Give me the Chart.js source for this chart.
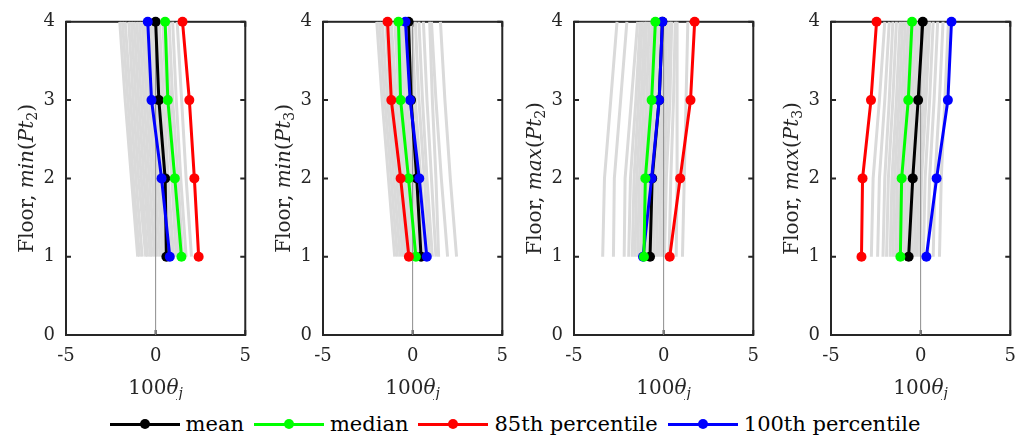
<!DOCTYPE html>
<html>
<head>
<meta charset="utf-8">
<script src="https://cdn.jsdelivr.net/npm/chart.js@4.4.0/dist/chart.umd.min.js"></script>
<style>
  body { margin: 0; width: 1030px; height: 438px; background: #fff; position: relative; overflow: hidden; font-family: 'DejaVu Serif', serif; }
  canvas.panel { position: absolute; top: 0; }
  #legend { position: absolute; left: 0; top: 406px; width: 1030px; height: 36px; display: flex; justify-content: center; align-items: center; font-size: 21px; color: #000; }
  .item { display: flex; align-items: center; margin-right: 10px; }
  .item:last-child { margin-right: 0; }
  .swatch { position: relative; width: 70px; height: 3px; margin-right: 6px; }
  .swatch span { position: absolute; left: 30px; top: -3.5px; width: 10px; height: 10px; border-radius: 50%; }
</style>
</head>
<body>
<canvas class="panel" id="p0" width="262" height="400" style="left:0px"></canvas>
<canvas class="panel" id="p1" width="262" height="400" style="left:257px"></canvas>
<canvas class="panel" id="p2" width="262" height="400" style="left:508px"></canvas>
<canvas class="panel" id="p3" width="262" height="400" style="left:765px"></canvas>
<div id="legend"></div>
<script>
// floors (y values), values listed floor 1 -> floor 4
const floors = [1, 2, 3, 4];
const seriesNames = ['mean', 'median', '85th percentile', '100th percentile'];
const seriesColors = ['#000000', '#00ff00', '#ff0000', '#0000ff'];

// min(Pt2)
const mean_minPt2   = [0.60, 0.53, 0.18, 0.00];
const median_minPt2 = [1.44, 1.07, 0.68, 0.53];
const p85_minPt2    = [2.40, 2.16, 1.88, 1.50];
const p100_minPt2   = [0.79, 0.33, -0.23, -0.44];
const runs_minPt2 = [
  [-1.00, -1.35, -1.70, -2.00],
  [-0.90, -1.25, -1.55, -1.85],
  [-0.75, -1.10, -1.40, -1.70],
  [-0.55, -0.95, -1.25, -1.50],
  [-0.45, -0.80, -1.10, -1.35],
  [-0.30, -0.65, -0.95, -1.20],
  [-0.20, -0.50, -0.80, -1.05],
  [-0.05, -0.35, -0.65, -0.90],
  [0.10, -0.20, -0.50, -0.75],
  [0.25, -0.05, -0.35, -0.60],
  [0.40, 0.10, -0.20, -0.45],
  [0.55, 0.25, -0.05, -0.30],
  [0.70, 0.40, 0.10, -0.15],
  [0.85, 0.55, 0.30, 0.05],
  [1.00, 0.70, 0.45, 0.20],
  [1.15, 0.90, 0.60, 0.40],
  [1.30, 1.05, 0.80, 0.55],
  [1.50, 1.25, 0.95, 0.75],
  [1.70, 1.40, 1.15, 0.95],
  [2.00, 1.70, 1.45, 1.20]
];

// min(Pt3)
const mean_minPt3   = [0.47, 0.23, -0.09, -0.23];
const median_minPt3 = [0.18, -0.23, -0.67, -0.79];
const p85_minPt3    = [-0.21, -0.67, -1.19, -1.40];
const p100_minPt3   = [0.79, 0.37, -0.14, -0.40];
const runs_minPt3 = [
  [-1.00, -1.35, -1.70, -2.00],
  [-0.85, -1.20, -1.55, -1.85],
  [-0.70, -1.05, -1.40, -1.70],
  [-0.55, -0.90, -1.25, -1.50],
  [-0.40, -0.75, -1.05, -1.35],
  [-0.25, -0.60, -0.90, -1.20],
  [-0.10, -0.45, -0.75, -1.00],
  [0.05, -0.30, -0.60, -0.85],
  [0.20, -0.15, -0.45, -0.70],
  [0.35, 0.00, -0.30, -0.55],
  [0.50, 0.15, -0.15, -0.40],
  [0.65, 0.30, 0.00, -0.25],
  [0.80, 0.45, 0.15, -0.05],
  [0.95, 0.65, 0.35, 0.15],
  [1.10, 0.80, 0.55, 0.35],
  [1.30, 1.05, 0.80, 0.60],
  [1.45, 1.30, 1.10, 0.95],
  [1.95, 1.60, 1.30, 1.05],
  [2.45, 2.10, 1.80, 1.55]
];

// max(Pt2)
const mean_maxPt2   = [-0.76, -0.64, -0.25, -0.07];
const median_maxPt2 = [-1.10, -1.02, -0.67, -0.46];
const p85_maxPt2    = [0.34, 0.92, 1.50, 1.73];
const p100_maxPt2   = [-1.15, -0.67, -0.25, -0.07];
const runs_maxPt2 = [
  [-3.40, -3.30, -2.95, -2.60],
  [-2.80, -2.75, -2.40, -2.05],
  [-2.20, -2.15, -1.80, -1.45],
  [-1.95, -1.85, -1.55, -1.30],
  [-1.75, -1.65, -1.40, -1.20],
  [-1.60, -1.50, -1.25, -1.05],
  [-1.45, -1.35, -1.10, -0.95],
  [-1.30, -1.20, -0.95, -0.80],
  [-1.15, -1.05, -0.80, -0.65],
  [-1.00, -0.90, -0.65, -0.50],
  [-0.85, -0.75, -0.50, -0.35],
  [-0.70, -0.60, -0.35, -0.20],
  [-0.55, -0.45, -0.20, -0.05],
  [-0.40, -0.30, -0.05, 0.10],
  [-0.25, -0.15, 0.05, 0.20],
  [-0.10, 0.00, 0.20, 0.35],
  [0.05, 0.15, 0.35, 0.45],
  [0.30, 0.40, 0.55, 0.65],
  [0.70, 0.75, 0.75, 0.75],
  [1.05, 1.15, 1.25, 1.35]
];

// max(Pt3)
const mean_maxPt3   = [-0.67, -0.44, -0.14, 0.12];
const median_maxPt3 = [-1.13, -1.06, -0.69, -0.48];
const p85_maxPt3    = [-3.30, -3.24, -2.77, -2.46];
const p100_maxPt3   = [0.32, 0.89, 1.52, 1.72];
const runs_maxPt3 = [
  [-2.75, -2.65, -2.30, -2.00],
  [-2.40, -2.30, -2.00, -1.75],
  [-2.10, -2.00, -1.75, -1.55],
  [-1.90, -1.80, -1.55, -1.35],
  [-1.70, -1.60, -1.35, -1.15],
  [-1.55, -1.45, -1.20, -1.00],
  [-1.40, -1.30, -1.05, -0.85],
  [-1.25, -1.15, -0.90, -0.70],
  [-1.10, -1.00, -0.75, -0.55],
  [-0.95, -0.85, -0.60, -0.40],
  [-0.80, -0.70, -0.45, -0.25],
  [-0.65, -0.55, -0.30, -0.10],
  [-0.50, -0.40, -0.15, 0.05],
  [-0.35, -0.25, 0.00, 0.20],
  [-0.20, -0.10, 0.15, 0.35],
  [-0.05, 0.05, 0.30, 0.50],
  [0.15, 0.25, 0.50, 0.70],
  [0.40, 0.50, 0.75, 0.95],
  [0.70, 0.80, 1.05, 1.25],
  [1.05, 1.15, 1.35, 1.55]
];

const xTicks = [-5, 0, 5];
const yTicks = [0, 1, 2, 3, 4];

const AXIS = '#262626';
const FONT = "'DejaVu Serif', serif";

const panels = [
  { id: 'p0', fn: 'min', sub: '2', s: [mean_minPt2, median_minPt2, p85_minPt2, p100_minPt2], runs: runs_minPt2 },
  { id: 'p1', fn: 'min', sub: '3', s: [mean_minPt3, median_minPt3, p85_minPt3, p100_minPt3], runs: runs_minPt3 },
  { id: 'p2', fn: 'max', sub: '2', s: [mean_maxPt2, median_maxPt2, p85_maxPt2, p100_maxPt2], runs: runs_maxPt2 },
  { id: 'p3', fn: 'max', sub: '3', s: [mean_maxPt3, median_maxPt3, p85_maxPt3, p100_maxPt3], runs: runs_maxPt3 }
];

const pts = vals => floors.map((f, i) => ({ x: vals[i], y: f }));

// draw text made of pieces with different fonts
function richText(ctx, parts, cx, cy, rotate) {
  ctx.save();
  ctx.translate(cx, cy);
  if (rotate) ctx.rotate(-Math.PI / 2);
  ctx.textAlign = 'left';
  ctx.textBaseline = 'alphabetic';
  ctx.fillStyle = AXIS;
  let w = 0;
  parts.forEach(p => { ctx.font = p.f; w += ctx.measureText(p.t).width; });
  let x = -w / 2;
  parts.forEach(p => {
    ctx.font = p.f;
    ctx.fillText(p.t, x, p.dy || 0);
    x += ctx.measureText(p.t).width;
  });
  ctx.restore();
}

const framePlugin = {
  id: 'frame',
  beforeDatasetsDraw(chart) {
    const { ctx, chartArea: a, scales: { x, y } } = chart;
    ctx.save();
    ctx.strokeStyle = AXIS;
    ctx.lineWidth = 2;
    ctx.strokeRect(a.left, a.top, a.right - a.left, a.bottom - a.top);
    ctx.beginPath();
    yTicks.forEach(v => {
      const py = y.getPixelForValue(v);
      ctx.moveTo(a.left, py); ctx.lineTo(a.left + 5, py);
      ctx.moveTo(a.right, py); ctx.lineTo(a.right - 5, py);
    });
    xTicks.forEach(v => {
      const px = x.getPixelForValue(v);
      ctx.moveTo(px, a.bottom); ctx.lineTo(px, a.bottom - 5);
      ctx.moveTo(px, a.top); ctx.lineTo(px, a.top + 5);
    });
    ctx.stroke();
    ctx.restore();
  },
  afterDraw(chart) {
    const { ctx, chartArea: a } = chart;
    const o = chart.options.plugins.frame;
    const N = '20px ' + FONT, I = 'italic 20px ' + FONT, S = '14px ' + FONT, SI = 'italic 14px ' + FONT;
    richText(ctx, [
      { t: 'Floor, ', f: N }, { t: o.fn, f: I }, { t: '(', f: N },
      { t: 'Pt', f: I }, { t: o.sub, f: S, dy: 4 }, { t: ')', f: N }
    ], a.left - 33, (a.top + a.bottom) / 2, true);
    richText(ctx, [
      { t: '100', f: N }, { t: 'θ', f: I }, { t: 'j', f: SI, dy: 4 }
    ], (a.left + a.right) / 2, 394, false);
  }
};

panels.forEach(p => {
  const datasets = [];
  // top-most first: red, green, blue, black
  [2, 1, 3, 0].forEach(k => datasets.push({
    label: seriesNames[k],
    data: pts(p.s[k]),
    borderColor: seriesColors[k],
    backgroundColor: seriesColors[k],
    borderWidth: 3,
    pointRadius: 5,
    pointBorderWidth: 0,
    showLine: true,
    clip: false
  }));
  datasets.push({
    label: 'zero',
    data: [{ x: 0, y: 0 }, { x: 0, y: 4 }],
    borderColor: '#8c8c8c',
    borderWidth: 1,
    pointRadius: 0,
    showLine: true,
    clip: false
  });
  p.runs.forEach((r, i) => datasets.push({
    label: 'run' + i,
    data: pts(r),
    borderColor: '#dadada',
    borderWidth: 3,
    pointRadius: 0,
    showLine: true,
    clip: false
  }));

  new Chart(document.getElementById(p.id), {
    type: 'scatter',
    data: { datasets },
    plugins: [framePlugin],
    options: {
      responsive: false,
      animation: false,
      events: [],
      layout: { padding: { top: 19, right: 6, left: 0, bottom: 0 } },
      plugins: {
        legend: { display: false },
        tooltip: { enabled: false },
        frame: { fn: p.fn, sub: p.sub }
      },
      scales: {
        x: {
          type: 'linear', min: -5, max: 5,
          afterBuildTicks: s => { s.ticks = xTicks.map(v => ({ value: v })); },
          afterFit: s => { s.height = 65; },
          grid: { display: false, drawTicks: false },
          border: { display: false },
          ticks: { color: AXIS, font: { family: FONT, size: 18 }, padding: 11, maxRotation: 0 }
        },
        y: {
          type: 'linear', min: 0, max: 4,
          afterBuildTicks: s => { s.ticks = yTicks.map(v => ({ value: v })); },
          afterFit: s => { s.width = 66; },
          grid: { display: false, drawTicks: false },
          border: { display: false },
          ticks: { color: AXIS, font: { family: FONT, size: 18 }, padding: 11 }
        }
      }
    }
  });
});

// legend
const legend = document.getElementById('legend');
seriesNames.forEach((name, k) => {
  const item = document.createElement('div');
  item.className = 'item';
  item.innerHTML = '<div class="swatch" style="background:' + seriesColors[k] + '"><span style="background:' +
    seriesColors[k] + '"></span></div><div>' + name + '</div>';
  legend.appendChild(item);
});
</script>
</body>
</html>
